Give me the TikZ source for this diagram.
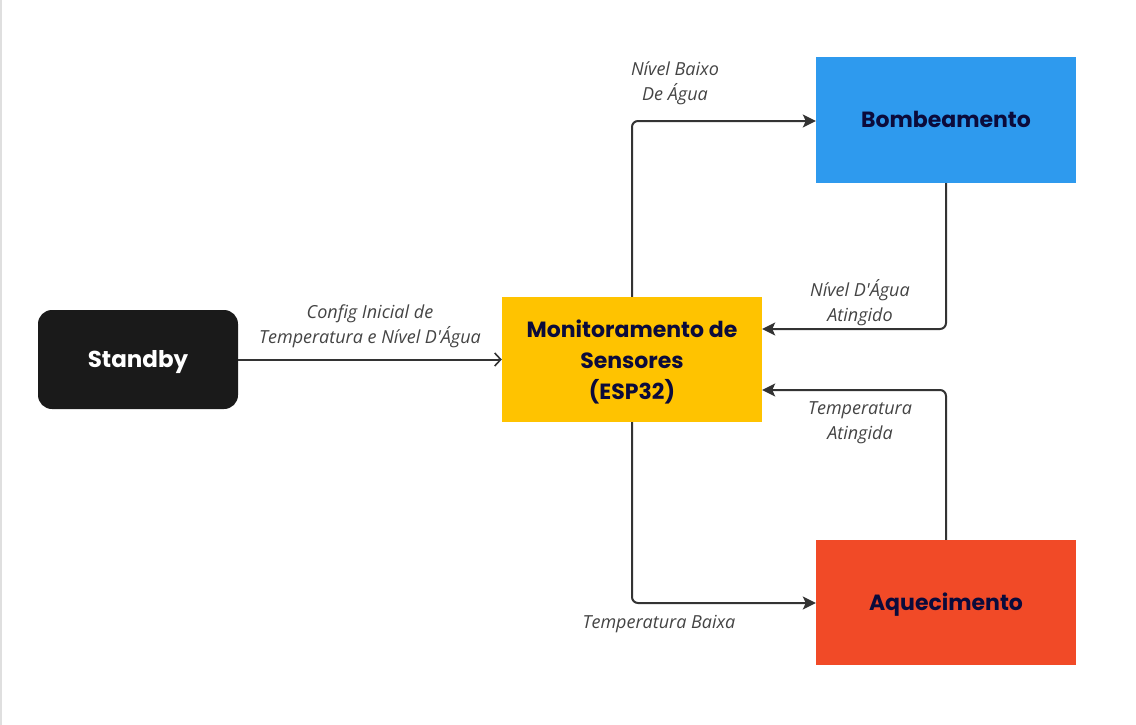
\documentclass[tikz,border=0pt]{standalone}
\usepackage{fontspec}
\usetikzlibrary{arrows.meta}
\newfontfamily\popfont{Poppins}
\newfontfamily\lblfont{Open Sans}
\definecolor{boxdark}{HTML}{1A1A1A}
\definecolor{boxyellow}{HTML}{FFC300}
\definecolor{boxblue}{HTML}{2E9AEE}
\definecolor{boxred}{HTML}{F14A27}
\definecolor{navytext}{HTML}{0B0B3B}
\definecolor{linegray}{HTML}{333333}
\definecolor{labelgray}{HTML}{444444}
\tikzset{
  statebox/.style={draw=none, minimum width=260pt, minimum height=126pt, inner sep=0pt,
    font=\popfont\bfseries\fontsize{22}{31}\selectfont, text=navytext, align=center},
  oneline/.style={text height=19pt, text depth=3pt},
  conn/.style={draw=linegray, line width=2pt, rounded corners=6pt,
    -{Stealth[length=13pt,width=13pt,inset=3pt]}},
  lbl/.style={font=\lblfont\itshape\fontsize{18}{25}\selectfont, text=labelgray, align=center, inner sep=0pt}
}
\begin{document}
\begin{tikzpicture}[x=1pt,y=-1pt]
\useasboundingbox (0,0) rectangle (1136,725);
\fill[white] (0,0) rectangle (1136,725);
\draw[gray!25, line width=1.5pt] (0.75,0) -- (0.75,725);

\node[statebox, oneline, fill=boxdark, rounded corners=14pt, minimum width=200pt, minimum height=99pt, text=white, font=\popfont\bfseries\fontsize{23}{30}\selectfont] (standby) at (138,359.5) {Standby};
\node[statebox, fill=boxyellow, minimum height=125pt] (mon) at (632,359.5) {\rule{0pt}{22pt}Monitoramento de\\Sensores\\(ESP32)};
\node[statebox, oneline, fill=boxblue] (bomb) at (946,120) {Bombeamento};
\node[statebox, oneline, fill=boxred, minimum height=125pt] (aq) at (946,602.5) {Aquecimento};

\coordinate (c1) at (632,121);
\coordinate (c2) at (946,329);
\coordinate (c3) at (946,390);
\coordinate (c4) at (632,603);

\draw[draw=linegray, line width=2pt, -{Straight Barb[length=6pt,width=13pt,line width=1.6pt]}] (standby.east) -- (mon.west);
\draw[conn] (mon.north) -- (c1) -- (bomb.west |- c1);
\draw[conn] (bomb.south) -- (c2) -- (mon.east |- c2);
\draw[conn] (aq.north) -- (c3) -- (mon.east |- c3);
\draw[conn] (mon.south) -- (c4) -- (aq.west |- c4);

\node[lbl] (l1) at (370,326) {Config Inicial de\\Temperatura e Nível D'Água};
\node[lbl] (l2) at (675,83) {Nível Baixo\\De Água};
\node[lbl] (l3) at (860,303) {Nível D'Água\\Atingido};
\node[lbl] (l4) at (860,423) {Temperatura\\Atingida};
\node[lbl] (l5) at (659,624) {Temperatura Baixa};
\end{tikzpicture}
\end{document}
